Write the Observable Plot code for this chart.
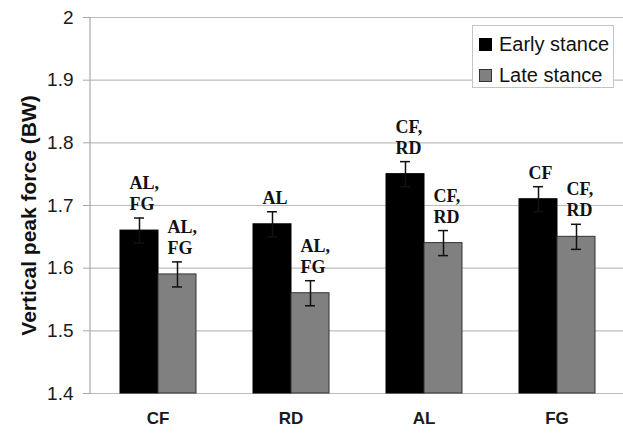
<!DOCTYPE html>
<html><head><meta charset="utf-8">
<script src="https://cdn.jsdelivr.net/npm/d3@7"></script>
<script src="https://cdn.jsdelivr.net/npm/@observablehq/plot@0.6"></script>
<style>
body{margin:0;background:#fff;}
#wrap{position:relative;width:623px;height:435px;}
.legend{position:absolute;left:472px;top:25px;width:142px;height:63px;border:1px solid #c4c4c4;background:#fff;box-sizing:border-box;font-family:"Liberation Sans",Arial,sans-serif;font-size:20px;color:#111;}
.legend .row{position:absolute;left:6px;height:22px;display:flex;align-items:center;}
.legend .sw{width:13px;height:13px;margin-right:7px;box-sizing:border-box;}
</style>
</head><body><div id="wrap"></div>
<script>
const categories = ["CF", "RD", "AL", "FG"];
const stances = ["Early stance", "Late stance"];
const earlyValues = [1.66, 1.67, 1.75, 1.71];
const lateValues = [1.59, 1.56, 1.64, 1.65];
const earlyErr = [0.02, 0.02, 0.02, 0.02];
const lateErr = [0.02, 0.02, 0.02, 0.02];
const earlyLabels = ["AL,\nFG", "AL", "CF,\nRD", "CF"];
const lateLabels = ["AL,\nFG", "AL,\nFG", "CF,\nRD", "CF,\nRD"];
const yTicks = [1.4, 1.5, 1.6, 1.7, 1.8, 1.9, 2];
const yLabel = "Vertical peak force (BW)";
const colors = ["#000000", "#808080"];

const rows = [];
categories.forEach((c, i) => {
  rows.push({cat: c, stance: stances[0], value: earlyValues[i], err: earlyErr[i], label: earlyLabels[i]});
  rows.push({cat: c, stance: stances[1], value: lateValues[i], err: lateErr[i], label: lateLabels[i]});
});

const chart = Plot.plot({
  width: 623, height: 435,
  marginLeft: 90, marginRight: 0, marginTop: 17, marginBottom: 42,
  style: {fontFamily: "Liberation Sans, Arial, sans-serif", background: "white", color: "#1a1a1a", overflow: "visible"},
  fx: {domain: categories, padding: 0},
  x: {domain: stances, paddingInner: 0, paddingOuter: 0.73, axis: null},
  y: {domain: [yTicks[0], yTicks[yTicks.length - 1]]},
  color: {domain: stances, range: colors},
  marks: [
    Plot.gridY(yTicks, {stroke: "#bdbdbd", strokeOpacity: 1, strokeWidth: 1.2}),
    Plot.axisY(yTicks, {tickSize: 8, tickPadding: 10, fontSize: 19, stroke: "#a8a8a8", strokeOpacity: 1, label: null,
      tickFormat: d => d === 2 ? "2" : d.toFixed(1)}),
    Plot.axisFx({anchor: "bottom", tickSize: 0, tickPadding: 18, fontSize: 17, fontWeight: "bold", label: null}),
    Plot.barY(rows, {fx: "cat", x: "stance", y1: yTicks[0], y2: "value", fill: "stance",
      stroke: d => d.stance === stances[0] ? "#000" : "#333", strokeWidth: 1}),
    Plot.ruleX(rows, {fx: "cat", x: "stance", y1: d => d.value - d.err, y2: d => d.value + d.err, stroke: "#111", strokeWidth: 1.5}),
    Plot.tickY(rows, {fx: "cat", x: "stance", y: d => d.value - d.err, insetLeft: 14, insetRight: 14, stroke: "#111", strokeWidth: 1.5}),
    Plot.tickY(rows, {fx: "cat", x: "stance", y: d => d.value + d.err, insetLeft: 14, insetRight: 14, stroke: "#111", strokeWidth: 1.5}),
    Plot.text(rows, {fx: "cat", x: "stance", y: d => d.value + d.err, text: "label", textAnchor: "start", dx: -10, dy: -8,
      lineAnchor: "bottom", lineHeight: 1.17, fontFamily: "Liberation Serif, Times New Roman, serif", fontWeight: "bold", fontSize: 18, fill: "#111"}),
    Plot.text([{fx: categories[0]}], {fx: "fx", frameAnchor: "left", textAnchor: "middle", lineAnchor: "middle", rotate: -90, dx: -62, dy: 10, text: () => yLabel,
      fontWeight: "bold", fontSize: 21, fill: "#111"})
  ]
});

// vertical axis line along the left edge of the plot area
const ys = chart.scale("y");
d3.select(chart).append("line")
  .attr("x1", 90).attr("x2", 90)
  .attr("y1", ys.apply(yTicks[yTicks.length - 1])).attr("y2", ys.apply(yTicks[0]))
  .attr("stroke", "#a8a8a8").attr("stroke-width", 1.2);

const wrap = document.getElementById("wrap");
wrap.appendChild(chart);
const legend = document.createElement("div");
legend.className = "legend";
stances.forEach((s, i) => {
  const row = document.createElement("div");
  row.className = "row";
  row.style.top = (i === 0 ? 7 : 38) + "px";
  const sw = document.createElement("div");
  sw.className = "sw";
  sw.style.background = colors[i];
  sw.style.border = "1px solid " + (i === 0 ? "#000" : "#333");
  const t = document.createElement("span");
  t.textContent = s;
  row.appendChild(sw); row.appendChild(t);
  legend.appendChild(row);
});
wrap.appendChild(legend);
</script>
</body></html>
